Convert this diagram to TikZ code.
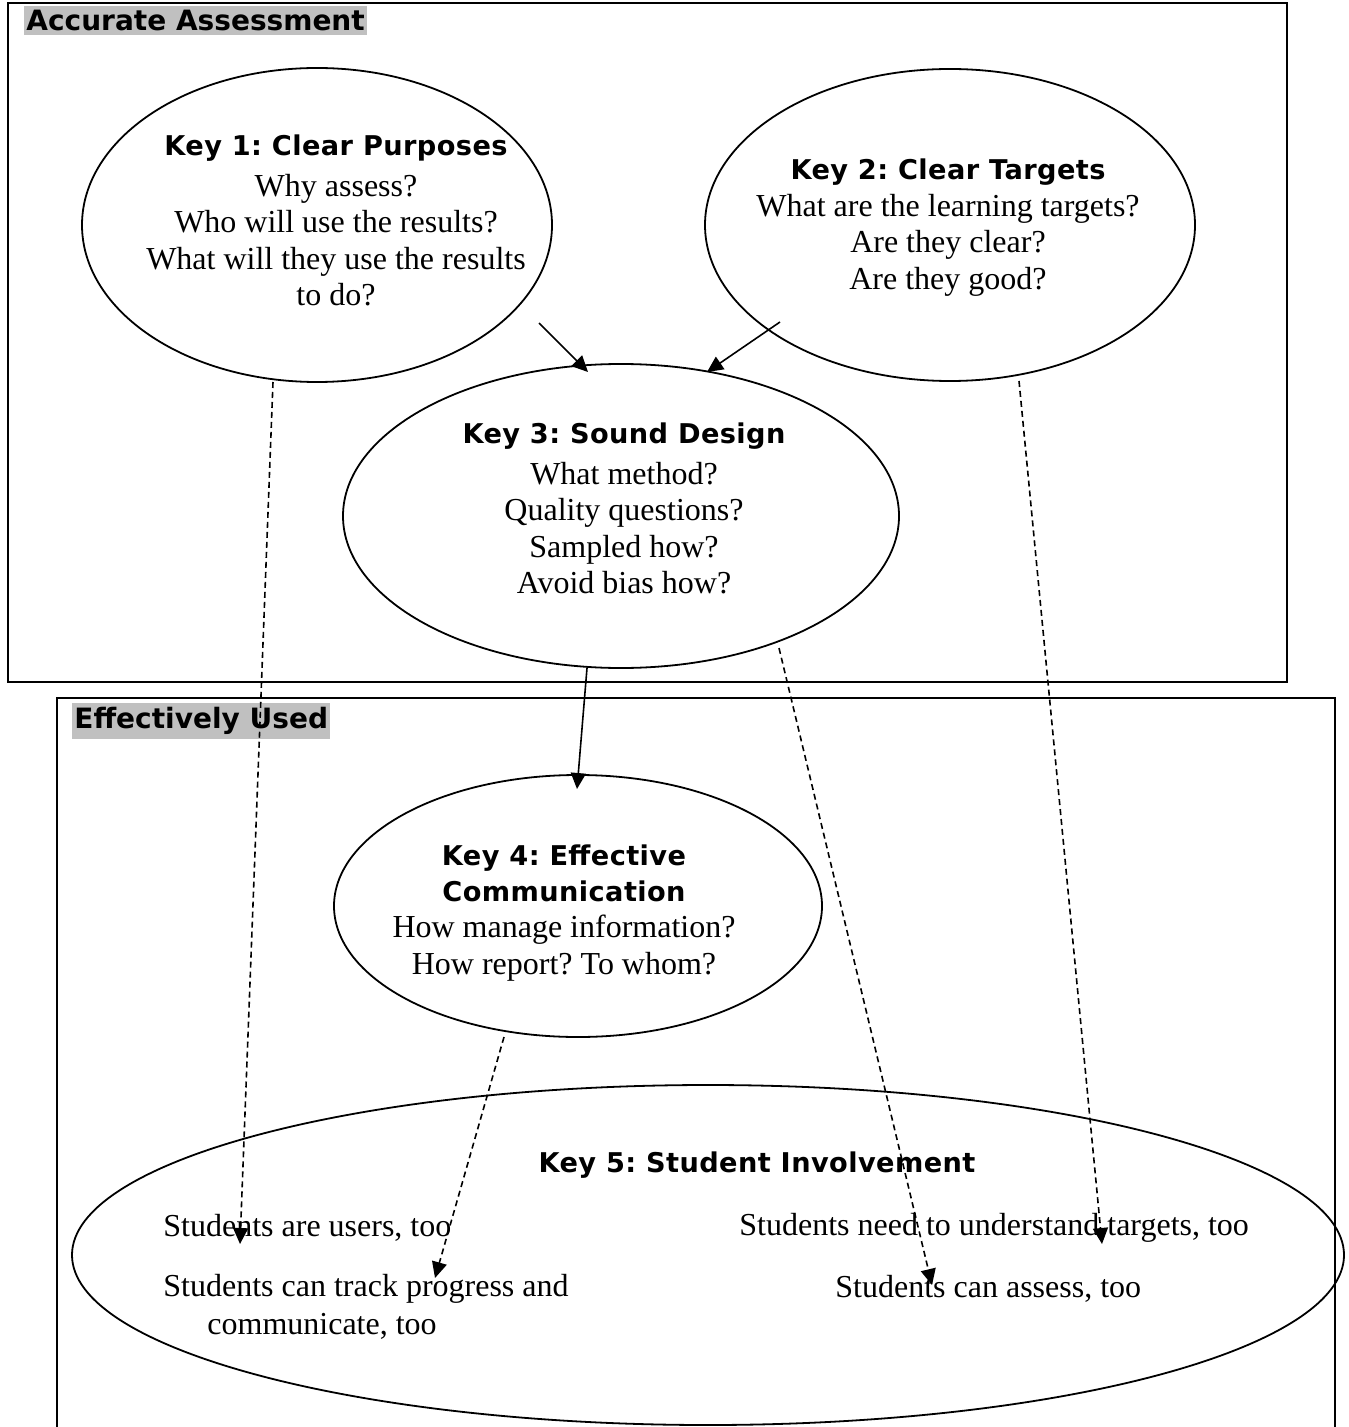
\documentclass[tikz,border=0pt]{standalone}
\usepackage{fontspec}
\setmainfont{Liberation Serif}
\newfontfamily\hdfont{DejaVu Sans}[LetterSpace=1.5]
\newfontfamily\labfont{DejaVu Sans}
\usetikzlibrary{shapes.geometric,arrows.meta}
\definecolor{labgray}{HTML}{C0C0C0}
\begin{document}
\frenchspacing
\begin{tikzpicture}[x=0.5pt,y=-0.5pt,
  frame/.style={line width=0.9pt},
  oval/.style={draw,ellipse,line width=0.9pt,inner sep=0pt},
  body/.style={font=\frenchspacing\fontsize{16}{18.2}\selectfont,align=center,inner sep=0pt},
  bodyl/.style={font=\frenchspacing\fontsize{16}{18.2}\selectfont,inner sep=0pt,anchor=west},
  head/.style={font=\hdfont\bfseries\fontsize{13.6}{18}\selectfont,inner sep=0pt,align=center},
  lab/.style={font=\labfont\bfseries\fontsize{14}{16}\selectfont,fill=labgray,inner xsep=1pt,inner ysep=2pt,anchor=north west},
  solidarr/.style={-{Triangle[length=8pt,width=7.5pt]},line width=0.8pt},
  dasharr/.style={solidarr,dash pattern=on 3pt off 2pt}
]
\useasboundingbox (0,0) rectangle (1348,1427);
% frames
\draw[frame] (8,3) rectangle (1287,682);
\draw[frame] (57,1427) -- (57,698) -- (1335,698) -- (1335,1427);
\node[lab] (labA) at (24,6) {Accurate Assessment};
\node[lab] (labE) at (72,703) {Effectively Used};

% ellipses
\node[oval,minimum width=235pt,minimum height=157pt] (k1) at (317,225) {};
\node[oval,minimum width=245pt,minimum height=156pt] (k2) at (950,225) {};
\node[oval,minimum width=278pt,minimum height=152pt] (k3) at (621,516) {};
\node[oval,minimum width=244pt,minimum height=131pt] (k4) at (578,906) {};
\node[oval,minimum width=636pt,minimum height=170pt] (k5) at (708,1255) {};

% texts key 1
\node[head] (h1) at (336,148) {Key 1: Clear Purposes};
\node[body] (t1) at (336,240) {Why assess?\\Who will use the results?\\What will they use the results\\to do?};
% key 2
\node[head] (h2) at (948,172) {Key 2: Clear Targets};
\node[body] (t2) at (948,245) {What are the learning targets?\\Are they clear?\\Are they good?};
% key 3
\node[head] (h3) at (624,436) {Key 3: Sound Design};
\node[body] (t3) at (624,528) {What method?\\Quality questions?\\Sampled how?\\Avoid bias how?};
% key 4
\node[head] (h4) at (564,873) {Key 4: Effective\\Communication};
\node[body] (t4) at (564,948) {How manage information?\\How report? To whom?};
% key 5
\node[head] (h5) at (757,1165) {Key 5: Student Involvement};
\node[bodyl] (s1) at (163,1228) {Students are users, too};
\node[bodyl] (s2) at (163,1289) {Students can track progress and};
\node[bodyl] (s2b) at (207,1326) {communicate, too};
\node[bodyl] (s3) at (739,1228) {Students need to understand targets, too};
\node[bodyl] (s4) at (835,1289) {Students can assess, too};

% connector end points
\coordinate (c1a) at (539,323); \coordinate (c1b) at (588,372);
\coordinate (c2a) at (780,322); \coordinate (c2b) at (707,372);
\coordinate (c3a) at (587,668); \coordinate (c3b) at (577,789);
\coordinate (d1a) at (273,382); \coordinate (d1b) at (240,1244);
\coordinate (d2a) at (1019,381); \coordinate (d2b) at (1102,1244);
\coordinate (d3a) at (779,648); \coordinate (d3b) at (932,1285);
\coordinate (d4a) at (504,1037); \coordinate (d4b) at (435,1278);

\draw[solidarr] (c1a) -- (c1b);
\draw[solidarr] (c2a) -- (c2b);
\draw[solidarr] (c3a) -- (c3b);
\draw[dasharr] (d1a) -- (d1b);
\draw[dasharr] (d2a) -- (d2b);
\draw[dasharr] (d3a) -- (d3b);
\draw[dasharr] (d4a) -- (d4b);
\end{tikzpicture}
\end{document}
